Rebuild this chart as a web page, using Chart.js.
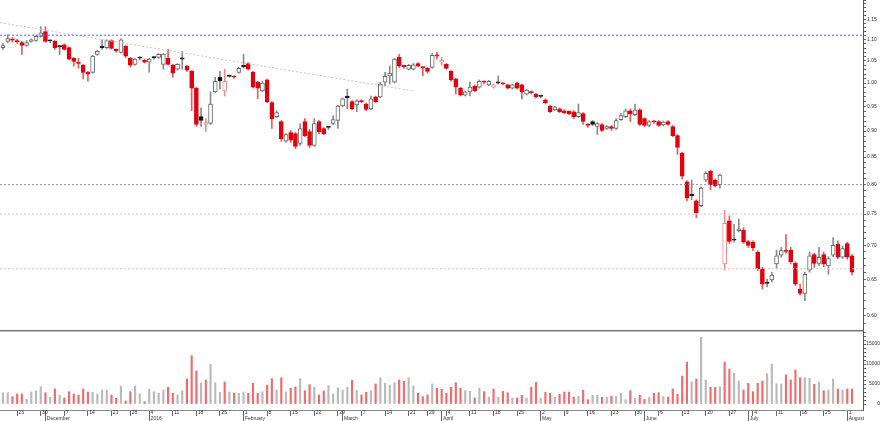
<!DOCTYPE html>
<html>
<head>
<meta charset="utf-8">
<script src="https://cdn.jsdelivr.net/npm/chart.js@4.4.0/dist/chart.umd.min.js"></script>
<style>
  html, body { margin:0; padding:0; background:#fff; }
  #wrap { width:880px; height:421px; position:relative; }
</style>
</head>
<body>
<div id="wrap"><canvas id="chart" width="880" height="421"></canvas></div>
<script>
// ===== Data =====
const firstDay = "2015-11-18";
const lastDay  = "2016-08-02";
const holidays = ["2015-12-25", "2016-01-01", "2016-03-25", "2016-03-28"];

const open = [
  1.081,1.096,1.101,1.097,1.093,1.086,1.096,1.098,1.108,1.120,
  1.098,1.096,1.084,1.088,1.081,1.056,1.045,1.040,1.024,1.024,
  1.065,1.082,1.081,1.098,1.076,1.070,1.084,1.056,1.042,1.058,
  1.052,1.047,1.058,1.058,1.042,1.056,1.040,1.031,1.055,1.038,
  1.026,0.989,0.929,0.913,0.915,0.981,1.013,0.983,1.016,1.015,
  1.024,1.040,1.044,1.024,1.002,0.983,1.007,0.958,0.929,0.919,
  0.880,0.897,0.895,0.876,0.919,0.899,0.872,0.919,0.905,0.908,
  0.915,0.921,0.951,0.972,0.960,0.953,0.962,0.955,0.945,0.970,
  0.970,1.002,1.016,1.002,1.058,1.038,1.031,1.031,1.044,1.035,
  1.033,1.035,1.062,1.047,1.042,1.026,1.009,0.989,0.974,0.981,
  0.993,0.991,1.003,0.996,0.991,1.001,0.999,0.996,0.989,1.000,
  0.996,0.976,0.980,0.976,0.972,0.964,0.951,0.943,0.945,0.941,
  0.940,0.939,0.929,0.935,0.912,0.919,0.909,0.913,0.905,0.909,
  0.905,0.923,0.929,0.941,0.933,0.943,0.925,0.911,0.920,0.919,
  0.912,0.919,0.909,0.891,0.857,0.805,0.782,0.772,0.764,0.808,
  0.824,0.808,0.800,0.672,0.739,0.709,0.723,0.724,0.706,0.705,
  0.690,0.665,0.645,0.649,0.672,0.685,0.692,0.693,0.673,0.636,
  0.630,0.663,0.686,0.673,0.686,0.669,0.685,0.702,0.682,0.703,
  0.684
];
const high = [
  1.091,1.112,1.105,1.101,1.096,1.098,1.102,1.110,1.132,1.132,
  1.100,1.098,1.087,1.090,1.083,1.058,1.056,1.042,1.026,1.063,
  1.075,1.100,1.100,1.100,1.078,1.102,1.086,1.058,1.056,1.060,
  1.054,1.056,1.060,1.067,1.067,1.077,1.042,1.044,1.072,1.040,
  1.028,0.991,0.947,0.925,0.981,1.013,1.026,1.031,1.018,1.016,
  1.035,1.065,1.046,1.026,1.004,1.004,1.009,0.960,0.941,0.921,
  0.895,0.901,0.897,0.915,0.925,0.903,0.925,0.921,0.907,0.909,
  0.931,0.953,0.968,0.987,0.962,0.964,0.964,0.957,0.972,0.972,
  1.002,1.024,1.038,1.056,1.065,1.040,1.042,1.044,1.046,1.037,
  1.035,1.067,1.070,1.058,1.044,1.028,1.011,0.991,0.983,1.002,
  0.996,1.007,1.005,1.006,0.998,1.016,1.001,0.998,0.998,1.002,
  0.998,0.987,0.983,0.978,0.974,0.966,0.953,0.951,0.947,0.943,
  0.941,0.941,0.955,0.937,0.915,0.921,0.917,0.915,0.911,0.911,
  0.925,0.935,0.945,0.945,0.955,0.945,0.927,0.921,0.921,0.921,
  0.920,0.921,0.911,0.893,0.859,0.807,0.808,0.774,0.796,0.823,
  0.826,0.810,0.819,0.756,0.747,0.733,0.742,0.728,0.708,0.707,
  0.692,0.667,0.650,0.660,0.693,0.697,0.717,0.697,0.675,0.643,
  0.660,0.690,0.688,0.697,0.690,0.683,0.712,0.707,0.699,0.705,
  0.686
];
const low = [
  1.077,1.093,1.094,1.091,1.065,1.084,1.094,1.096,1.106,1.094,
  1.093,1.077,1.065,1.075,1.052,1.038,1.033,1.009,1.004,1.022,
  1.063,1.077,1.079,1.077,1.070,1.068,1.058,1.036,1.040,1.052,
  1.045,1.024,1.054,1.056,1.031,1.040,1.013,1.029,1.031,1.026,
  0.941,0.909,0.909,0.899,0.913,0.979,0.987,0.972,1.013,1.011,
  1.022,1.033,1.029,0.989,0.966,0.981,0.958,0.905,0.927,0.880,
  0.878,0.878,0.866,0.872,0.889,0.868,0.870,0.895,0.893,0.903,
  0.913,0.905,0.949,0.945,0.943,0.939,0.958,0.941,0.943,0.958,
  0.968,0.994,0.998,1.000,1.035,1.033,1.029,1.029,1.036,1.016,
  1.022,1.033,1.054,1.040,1.031,1.004,0.976,0.972,0.972,0.972,
  0.981,0.989,0.998,0.994,0.989,0.998,0.996,0.987,0.987,0.987,
  0.966,0.974,0.976,0.968,0.968,0.955,0.937,0.941,0.937,0.935,
  0.933,0.925,0.927,0.913,0.907,0.911,0.893,0.899,0.903,0.901,
  0.903,0.921,0.927,0.919,0.931,0.911,0.909,0.909,0.915,0.909,
  0.910,0.911,0.889,0.855,0.810,0.772,0.774,0.744,0.762,0.805,
  0.791,0.796,0.794,0.663,0.703,0.705,0.721,0.703,0.697,0.692,
  0.662,0.636,0.639,0.646,0.665,0.682,0.688,0.672,0.641,0.628,
  0.620,0.660,0.667,0.670,0.668,0.657,0.683,0.680,0.680,0.679,
  0.656
];
const close = [
  1.086,1.103,1.099,1.095,1.086,1.093,1.100,1.108,1.117,1.096,
  1.097,1.081,1.083,1.077,1.054,1.049,1.044,1.024,1.020,1.061,
  1.072,1.081,1.098,1.079,1.074,1.100,1.061,1.040,1.054,1.056,
  1.047,1.054,1.057,1.065,1.066,1.042,1.022,1.042,1.054,1.029,
  0.989,0.913,0.921,0.917,0.955,1.004,1.005,1.004,1.015,1.013,
  1.033,1.036,1.031,0.991,0.989,1.000,0.960,0.925,0.937,0.885,
  0.893,0.882,0.870,0.905,0.891,0.872,0.915,0.899,0.895,0.907,
  0.923,0.951,0.966,0.968,0.945,0.962,0.960,0.944,0.966,0.960,
  0.998,1.015,1.022,1.054,1.038,1.037,1.040,1.041,1.038,1.034,
  1.026,1.063,1.061,1.051,1.033,1.007,0.991,0.974,0.981,0.991,
  0.983,1.004,1.002,1.004,0.996,1.000,0.998,0.989,0.996,0.989,
  0.981,0.985,0.979,0.970,0.971,0.958,0.939,0.949,0.939,0.937,
  0.935,0.929,0.937,0.919,0.911,0.913,0.915,0.901,0.909,0.905,
  0.921,0.931,0.941,0.935,0.943,0.913,0.911,0.919,0.918,0.911,
  0.918,0.913,0.891,0.868,0.815,0.777,0.781,0.752,0.794,0.820,
  0.800,0.798,0.817,0.735,0.706,0.708,0.726,0.705,0.700,0.696,
  0.665,0.643,0.644,0.656,0.684,0.692,0.691,0.675,0.643,0.630,
  0.657,0.684,0.673,0.682,0.672,0.680,0.700,0.682,0.695,0.682,
  0.660
];
const volume = [
  2830,2830,1830,2500,2500,1170,3000,3250,4330,2830,
  1670,3750,2250,1500,3080,2500,2250,3750,3000,2920,
  2500,3500,3500,2250,1420,4500,750,3080,4500,2500,
  580,3670,3080,2670,3500,4170,2670,2250,3330,6250,
  12080,8250,5250,6000,9920,5330,2920,5500,3000,2750,
  2670,3000,2670,5170,2670,3080,4670,6330,3500,6580,
  3000,3920,4250,6330,3330,4830,4170,2250,3250,4580,
  2500,4080,3500,4170,5920,3420,2250,2920,3330,5000,
  6580,5170,4750,5330,6000,5670,6580,4500,2750,1830,
  2250,5000,3920,3670,2670,4170,5330,3920,3330,3170,
  1500,4000,3080,1750,3750,1670,3170,2830,1500,1500,
  2170,1500,4170,5420,1420,2920,2670,1670,2420,3000,
  3000,1670,1920,3420,1080,2170,2170,1670,1670,2000,
  1920,2670,1080,3330,1420,2170,1170,1670,2670,2830,
  1920,1750,3750,2420,7000,10500,5500,6250,16670,6000,
  4170,4170,4330,10500,8750,7750,5750,3500,5170,3080,
  5170,5750,7580,10000,5080,5000,7250,6000,8500,6580,
  6580,6420,4920,5500,3330,3500,6250,3750,3500,3750,
  3750
];

// horizontal reference lines and the dotted trend line
const refLevels   = [1.111, 0.80, 0.75, 0.665];
const trendPoints = [{ x: -0.64, y: 1.142 }, { x: 86.9, y: 0.983 }];

// axis ticks
const priceLabels  = ["0.60","0.65","0.70","0.75","0.80","0.85","0.90","0.95","1.00","1.05","1.10","1.15"];
const volumeLabels = ["0","5000","10000","15000"];
const monthNames   = ["2016","February","March","April","May","June","July","August","September","October","November","December"];

// ===== Trading days (weekdays minus exchange holidays) =====
const days = [];
for (let d = new Date(firstDay + "T12:00:00Z"); d <= new Date(lastDay + "T12:00:00Z"); d.setUTCDate(d.getUTCDate() + 1)) {
  const iso = d.toISOString().slice(0, 10);
  const wd = d.getUTCDay();
  if (wd === 0 || wd === 6 || holidays.includes(iso)) continue;
  days.push(iso);
}
const dow = (s) => new Date(s + "T12:00:00Z").getUTCDay();
const weekStarts  = days.map((s, i) => i > 0 && dow(s) < dow(days[i - 1]) ? i : -1).filter(i => i >= 0);
const monthStarts = days.map((s, i) => i > 0 && s.slice(5, 7) !== days[i - 1].slice(5, 7) ? i : -1).filter(i => i >= 0);

// ===== Candle colours =====
const RED = "#e3000f", RED_WICK = "#ee5a5a", PINK = "#f28c8c";
const UP_EDGE = "#6a6a6a", UP_WICK = "#8a8a8a", BLACK = "#111111";
const kinds = close.map((c, i) => {
  const prev = i ? close[i - 1] : open[i];
  const down = c < prev;
  const filled = c < open[i];
  if (filled) return down ? "red" : "black";
  return down ? "pink" : "up";
});
const bodyFill = kinds.map(k => k === "red" ? RED : k === "black" ? BLACK : "#ffffff");
const bodyEdge = kinds.map(k => k === "red" ? RED : k === "black" ? BLACK : k === "pink" ? PINK : UP_EDGE);
const wickCol  = kinds.map(k => k === "red" ? RED_WICK : k === "pink" ? PINK : UP_WICK);
const volCol   = close.map((c, i) => c < (i ? close[i - 1] : open[i]) ? "#f36a6a" : "#bababa");

const X_MIN = -0.636, X_MAX = 182.33;
const FONT = { family: "'Liberation Sans', Arial, sans-serif", size: 5 };

const bodies = days.map((_, i) => ({ x: i, y: [Math.min(open[i], close[i]), Math.max(open[i], close[i])] }));
const wicks  = days.map((_, i) => ({ x: i, y: [low[i], high[i]] }));
const vols   = days.map((_, i) => ({ x: i, y: volume[i] }));

const refStyle = [
  { color: "#6464f8", dash: [2, 2], width: 1 },
  { color: "#8e8e9a", dash: [2, 2], width: 1 },
  { color: "#cdcdcd", dash: [2, 2], width: 1 },
  { color: "#cdcdcd", dash: [2, 2], width: 1 },
];
const lineBase = { type: "line", yAxisID: "y", xAxisID: "x", order: 0, pointRadius: 0, pointHoverRadius: 0, pointHitRadius: 0, fill: false };
const refSets = refLevels.map((v, k) => ({
  ...lineBase,
  data: [{ x: X_MIN, y: v }, { x: X_MAX, y: v }],
  borderColor: refStyle[k].color, borderDash: refStyle[k].dash, borderWidth: refStyle[k].width,
}));

const fixW = (s) => { s.width = 17; s.paddingTop = 0; s.paddingBottom = 0; };

new Chart(document.getElementById("chart"), {
  type: "bar",
  data: {
    datasets: [
      ...refSets,
      { ...lineBase, data: trendPoints, borderColor: "#c4c4c4", borderDash: [2, 2], borderWidth: 1 },
      {
        label: "body", yAxisID: "y", xAxisID: "x", order: 1, grouped: false,
        data: bodies, backgroundColor: bodyFill, borderColor: bodyEdge, borderWidth: 1,
        borderSkipped: false, barThickness: 4, minBarLength: 1.2,
      },
      {
        label: "wick", yAxisID: "y", xAxisID: "x", order: 2, grouped: false,
        data: wicks, backgroundColor: wickCol, borderWidth: 0, barThickness: 1,
      },
      {
        label: "volume", yAxisID: "yv", xAxisID: "x", order: 3, grouped: false,
        data: vols, backgroundColor: volCol, borderWidth: 0, barThickness: 1.5,
      },
    ],
  },
  options: {
    responsive: false,
    animation: false,
    layout: { padding: 0, autoPadding: false },
    plugins: { legend: { display: false }, tooltip: { enabled: false } },
    scales: {
      x: {
        type: "linear", position: "bottom", min: X_MIN, max: X_MAX, offset: false,
        afterBuildTicks: (s) => { s.ticks = [...new Set([...weekStarts, ...monthStarts])].sort((a, b) => a - b).map(v => ({ value: v })); },
        afterFit: (s) => { s.height = 6; s.paddingLeft = 0; s.paddingRight = 0; },
        ticks: {
          autoSkip: false, maxRotation: 0, align: "start", padding: -6.2, font: FONT, color: "#333",
          callback: (v) => weekStarts.includes(v) ? " " + Number(days[v].slice(8, 10)) : "",
        },
        grid: { offset: false, drawOnChartArea: false, drawTicks: true, tickLength: 6, tickColor: "#666" },
        border: { display: true, color: "#8a8a8a" },
      },
      x2: {
        type: "linear", position: "bottom", min: X_MIN, max: X_MAX, offset: false,
        afterBuildTicks: (s) => { s.ticks = monthStarts.map(v => ({ value: v })); },
        afterFit: (s) => { s.height = 5; s.paddingLeft = 0; s.paddingRight = 0; },
        ticks: {
          autoSkip: false, maxRotation: 0, align: "start", padding: -5.8, font: FONT, color: "#333",
          callback: (v) => " " + monthNames[(Number(days[v].slice(5, 7)) + 11) % 12],
        },
        grid: { offset: false, drawOnChartArea: false, drawTicks: true, tickLength: 5, tickColor: "#666" },
        border: { display: false },
      },
      y: {
        type: "logarithmic", position: "right", stack: "panels", stackWeight: 331,
        min: 0.5845, max: 1.2003,
        afterBuildTicks: (s) => {
          const t = [];
          for (let k = 59; k <= 120; k++) t.push({ value: k / 100 });
          s.ticks = t;
        },
        afterFit: fixW,
        ticks: {
          autoSkip: false, padding: 1, font: FONT, color: "#333",
          callback: (v) => { const s = v.toFixed(2); return priceLabels.includes(s) ? s : ""; },
        },
        grid: { drawOnChartArea: false, drawTicks: true, tickLength: 3, tickColor: "#666" },
        border: { display: true, color: "#555" },
      },
      yv: {
        type: "linear", position: "right", stack: "panels", stackWeight: 79,
        min: -1500, max: 18250,
        afterBuildTicks: (s) => {
          const t = [];
          for (let k = 0; k <= 18; k++) t.push({ value: k * 1000 });
          t.push({ value: 18250 });
          s.ticks = t;
        },
        afterFit: fixW,
        ticks: {
          autoSkip: false, padding: 1, crossAlign: "far", font: FONT, color: "#333",
          callback: (v) => volumeLabels.includes(String(v)) ? String(v) : "",
        },
        grid: {
          drawOnChartArea: true, drawTicks: true, tickLength: 3,
          color: (ctx) => ctx.tick && ctx.tick.value === 18250 ? "#7a7a7a" : "rgba(0,0,0,0)",
          lineWidth: (ctx) => ctx.tick && ctx.tick.value === 18250 ? 1.5 : 1,
          tickColor: (ctx) => ctx.tick && ctx.tick.value === 18250 ? "rgba(0,0,0,0)" : "#666",
        },
        border: { display: true, color: "#555" },
      },
    },
  },
});
</script>
</body>
</html>
